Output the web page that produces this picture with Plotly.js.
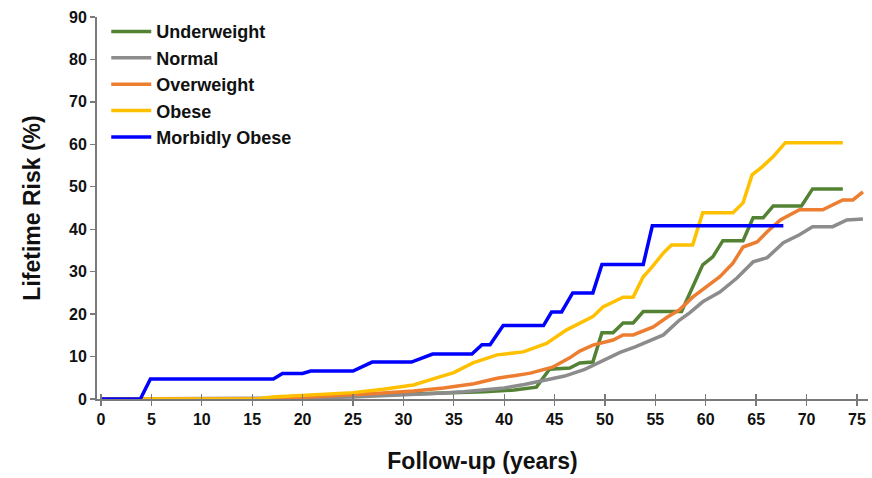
<!DOCTYPE html>
<html>
<head>
<meta charset="utf-8">
<script src="https://cdn.plot.ly/plotly-3.0.1.min.js"></script>
<style>
  html, body { margin: 0; padding: 0; background: #fff; }
  #chart { width: 872px; height: 478px; }
</style>
</head>
<body>
<div id="chart"></div>
<script>
// Cumulative lifetime risk (%) by follow-up year, per BMI category
const seriesNames = ['Underweight', 'Normal', 'Overweight', 'Obese', 'Morbidly Obese'];

const underweightYears = [0, 17, 18, 22, 25, 30, 35, 38, 41, 43.2, 44.5, 46.5, 47.5, 48.8, 49.7, 50.8, 51.8, 52.8, 53.8, 57.6, 59.7, 60.7, 61.7, 63.7, 64.7, 65.7, 66.7, 69.5, 70.6, 73.6];
const underweightRisk  = [0, 0, 0.5, 0.6, 0.8, 1.1, 1.4, 1.7, 2.1, 2.8, 7.0, 7.3, 8.5, 8.7, 15.6, 15.6, 17.9, 17.9, 20.6, 20.6, 31.6, 33.5, 37.3, 37.3, 42.7, 42.7, 45.5, 45.5, 49.5, 49.5];

const normalYears = [0, 15, 20, 25, 30, 33, 36, 38, 40, 42, 44, 46, 48, 50, 51.5, 53, 54.5, 55.8, 57.4, 58.4, 59.7, 61.4, 63.1, 64.7, 66.1, 67.7, 69.3, 70.6, 72.6, 74, 75.6];
const normalRisk  = [0, 0, 0.2, 0.5, 0.9, 1.3, 1.7, 2.1, 2.6, 3.4, 4.4, 5.4, 7.0, 9.3, 11.0, 12.3, 13.7, 15.1, 18.6, 20.3, 22.9, 25.2, 28.5, 32.3, 33.3, 36.8, 38.7, 40.6, 40.6, 42.2, 42.4];

const overweightYears = [0, 15, 20, 25, 28, 31, 34, 37, 39.3, 41, 42.6, 44.8, 46.5, 47.5, 48.8, 50.8, 51.8, 52.8, 54.8, 56.2, 57.4, 58.7, 59.7, 61.4, 62.7, 63.7, 65.1, 66.1, 67.4, 69.3, 71.6, 73.6, 74.6, 75.6];
const overweightRisk  = [0, 0, 0.4, 0.9, 1.4, 1.9, 2.6, 3.6, 4.9, 5.5, 6.1, 7.5, 9.7, 11.3, 12.7, 13.9, 15.1, 15.1, 17.0, 19.3, 21.0, 24.0, 25.7, 28.8, 32.0, 35.8, 37.0, 39.4, 42.2, 44.6, 44.6, 46.9, 46.9, 48.8];

const obeseYears = [0, 15.5, 17, 20, 23, 25, 28, 31, 33.6, 35, 36.9, 39.3, 41.9, 44.2, 46.2, 48.8, 49.8, 51.8, 52.8, 53.8, 54.6, 55.8, 56.6, 58.7, 59.7, 62.7, 63.7, 64.6, 65.6, 66.7, 67.9, 73.6];
const obeseRisk  = [0, 0, 0.5, 0.8, 1.2, 1.5, 2.3, 3.3, 5.2, 6.2, 8.5, 10.4, 11.1, 13.1, 16.3, 19.4, 21.7, 24.0, 24.0, 28.8, 30.9, 34.4, 36.3, 36.3, 43.9, 43.9, 46.2, 52.8, 54.7, 57.1, 60.4, 60.4];

const morbidYears = [0, 3.9, 4.9, 17.1, 18, 20, 20.8, 25, 26.9, 30.8, 32.9, 36.8, 37.8, 38.6, 39.9, 43.9, 44.7, 45.7, 46.8, 48.8, 49.7, 53.8, 54.7, 67.7];
const morbidRisk  = [0, 0, 4.7, 4.7, 6.0, 6.0, 6.6, 6.6, 8.7, 8.7, 10.6, 10.6, 12.8, 12.8, 17.3, 17.3, 20.5, 20.5, 25.0, 25.0, 31.7, 31.7, 40.8, 40.8];

const xTickVals = [0, 5, 10, 15, 20, 25, 30, 35, 40, 45, 50, 55, 60, 65, 70, 75];
const yTickVals = [0, 10, 20, 30, 40, 50, 60, 70, 80, 90];

const colors = ['#548235', '#8c8c8c', '#ed7d31', '#ffc000', '#0000ff'];
const xs = [underweightYears, normalYears, overweightYears, obeseYears, morbidYears];
const ys = [underweightRisk, normalRisk, overweightRisk, obeseRisk, morbidRisk];

const traces = seriesNames.map((name, i) => ({
  type: 'scatter',
  mode: 'lines',
  name: name,
  x: xs[i],
  y: ys[i],
  line: { color: colors[i], width: 3.5 },
  hoverinfo: 'skip'
}));

// invisible companion trace so the x ticks can cross the axis line
traces.push({
  type: 'scatter', mode: 'lines', x: [0], y: [0],
  xaxis: 'x2', yaxis: 'y', showlegend: false, hoverinfo: 'skip',
  line: { width: 0 }
});

const fontFamily = 'Liberation Sans, Arial, Helvetica, sans-serif';
const axisColor = '#7a7a7a';

const layout = {
  width: 872,
  height: 478,
  margin: { l: 97, r: 4, t: 17, b: 79 },
  paper_bgcolor: '#ffffff',
  plot_bgcolor: '#ffffff',
  font: { family: fontFamily, color: '#111111', weight: 'bold' },
  showlegend: true,
  legend: {
    x: 0.012, y: 1.01, xanchor: 'left', yanchor: 'top',
    bgcolor: 'rgba(0,0,0,0)',
    itemwidth: 40,
    font: { family: fontFamily, size: 18, color: '#111111', weight: 'bold' },
    tracegroupgap: 0
  },
  xaxis: {
    range: [-0.4, 76.1],
    tickvals: xTickVals,
    ticks: 'outside', ticklen: 5, tickwidth: 1.3, tickcolor: axisColor,
    showline: true, linecolor: axisColor, linewidth: 2,
    showgrid: false, zeroline: false,
    tickfont: { family: fontFamily, size: 16, color: '#111111', weight: 'bold' },
    title: { text: 'Follow-up (years)', standoff: 26,
             font: { family: fontFamily, size: 23, color: '#111111', weight: 'bold' } }
  },
  xaxis2: {
    overlaying: 'x', matches: 'x', side: 'bottom', anchor: 'y',
    range: [-0.4, 76.1],
    tickvals: xTickVals,
    ticks: 'inside', ticklen: 5, tickwidth: 1.3, tickcolor: axisColor,
    showticklabels: false, showline: false, showgrid: false, zeroline: false
  },
  yaxis: {
    range: [0, 90],
    tickvals: yTickVals,
    ticks: 'outside', ticklen: 5, tickwidth: 1.3, tickcolor: axisColor,
    showline: true, linecolor: axisColor, linewidth: 2,
    showgrid: false, zeroline: false,
    tickfont: { family: fontFamily, size: 16, color: '#111111', weight: 'bold' },
    title: { text: 'Lifetime Risk (%)', standoff: 22,
             font: { family: fontFamily, size: 23, color: '#111111', weight: 'bold' } }
  }
};

Plotly.newPlot('chart', traces, layout, { staticPlot: true, displayModeBar: false });
</script>
</body>
</html>
